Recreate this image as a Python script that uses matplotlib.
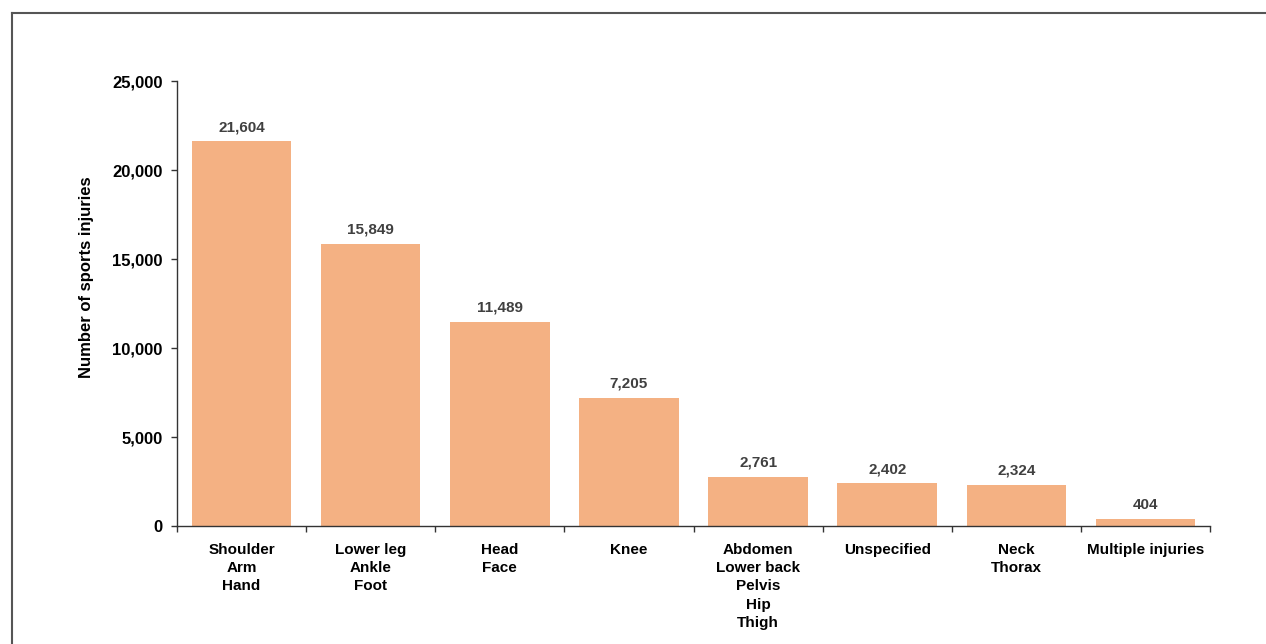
import matplotlib.pyplot as plt
import numpy as np
from matplotlib.lines import Line2D
from matplotlib.ticker import FuncFormatter

plt.rcParams['font.family'] = ['Liberation Sans', 'DejaVu Sans']

# body regions and number of injuries
regions = ['Shoulder\nArm\nHand', 'Lower leg\nAnkle\nFoot', 'Head\nFace', 'Knee',
           'Abdomen\nLower back\nPelvis\nHip\nThigh', 'Unspecified', 'Neck\nThorax',
           'Multiple injuries']
injuries = [21604, 15849, 11489, 7205, 2761, 2402, 2324, 404]
yticks = [0, 5000, 10000, 15000, 20000, 25000]

fig = plt.figure(figsize=(12.66, 6.44), dpi=100)
ax = fig.add_axes([0.1398, 0.1832, 0.8160, 0.6910])

x = np.arange(len(regions))
bars = ax.bar(x, injuries, width=0.77, color='#F4B183', zorder=2)

for b, v in zip(bars, injuries):
    ax.text(b.get_x() + b.get_width() / 2, v + 400, f'{v:,}', ha='center', va='bottom',
            fontsize=11, fontweight='bold', color='#404040')

ax.set_xlim(-0.5, len(regions) - 0.5)
ax.set_ylim(0, 25000)
ax.set_yticks(yticks)
ax.yaxis.set_major_formatter(FuncFormatter(lambda v, p: f'{int(v):,}'))

# category labels between boundary ticks
ax.set_xticks(np.arange(len(regions) + 1) - 0.5)
ax.set_xticklabels([])
ax.set_xticks(x, minor=True)
ax.set_xticklabels(regions, minor=True, fontsize=11, fontweight='bold', linespacing=1.4)
ax.tick_params(axis='x', which='minor', length=0, pad=12)
ax.tick_params(axis='x', which='major', length=4.5, width=1, color='#333333', direction='out')
ax.tick_params(axis='y', length=4.5, width=1, color='#333333', direction='out', labelsize=12, pad=6)
for lab in ax.get_yticklabels():
    lab.set_fontweight('bold')

ax.set_ylabel('Number of sports injuries', fontsize=12, fontweight='bold')
ax.yaxis.set_label_coords(-0.080, 0.56)

ax.spines['top'].set_visible(False)
ax.spines['right'].set_visible(False)
for s in ['left', 'bottom']:
    ax.spines[s].set_color('#333333')
    ax.spines[s].set_linewidth(1)

# outer frame (only top and left edges visible in the crop)
fig.add_artist(Line2D([12 / 1266, 12 / 1266], [0, 1 - 13 / 644], transform=fig.transFigure,
                      color='#555555', linewidth=1.5))
fig.add_artist(Line2D([12 / 1266, 1], [1 - 13 / 644, 1 - 13 / 644], transform=fig.transFigure,
                      color='#555555', linewidth=1.5))

fig.savefig('out.png', dpi=100)
